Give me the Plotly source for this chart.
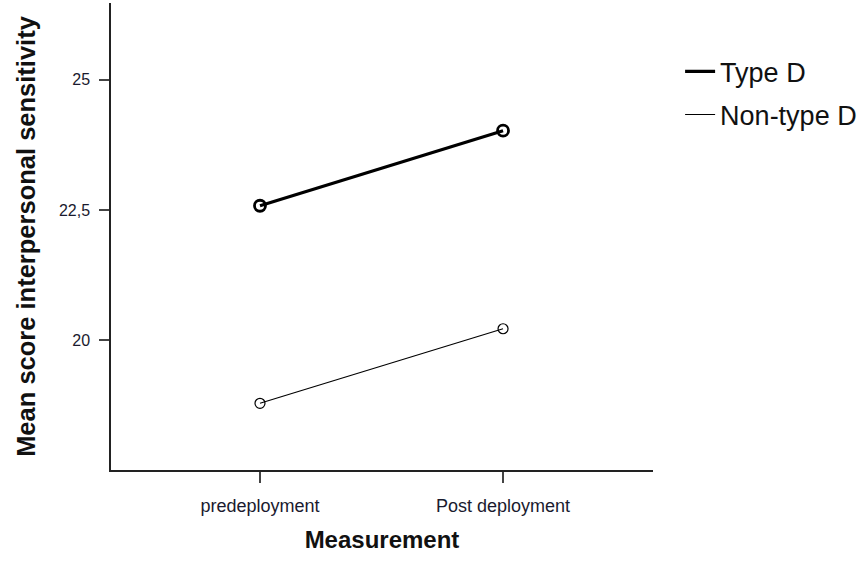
import plotly.graph_objects as go

categories = ["predeployment", "Post deployment"]
type_d = [22.58, 24.02]
non_type_d = [18.79, 20.22]
y_ticks = [20, 22.5, 25]
y_tick_labels = ["20", "22,5", "25"]

FONT = "Liberation Sans, Arial, sans-serif"
x_pos = [0, 1]

fig = go.Figure()

series = [
    ("Type D", type_d, 3.2, 11, 2.8),
    ("Non-type D", non_type_d, 1.2, 10, 1.2),
]
for name, vals, lw, msize, mlw in series:
    fig.add_trace(go.Scatter(
        x=x_pos, y=vals, mode="lines", name=name, legendgroup=name,
        line=dict(color="black", width=lw), showlegend=True,
    ))
    fig.add_trace(go.Scatter(
        x=x_pos, y=vals, mode="markers", name=name, legendgroup=name,
        marker=dict(symbol="circle-open", size=msize, color="black",
                    line=dict(color="black", width=mlw)),
        showlegend=False,
    ))

fig.update_layout(
    width=868, height=561,
    margin=dict(l=111, r=215, t=3, b=91),
    plot_bgcolor="white", paper_bgcolor="white",
    font=dict(family=FONT, color="#222"),
    legend=dict(x=1.05, y=0.905, xanchor="left", yanchor="top",
                font=dict(size=27, color="#111"), tracegroupgap=5,
                bgcolor="rgba(0,0,0,0)"),
    xaxis=dict(
        tickmode="array", tickvals=x_pos, ticktext=categories,
        range=[-0.613, 1.617],
        showline=True, linecolor="#222", linewidth=1.5,
        ticks="outside", ticklen=11, tickcolor="#444", tickwidth=1.5,
        showgrid=False, zeroline=False,
        tickfont=dict(size=18, color="#1a1a2e"),
        ticklabelstandoff=8,
        title=dict(text="<b>Measurement</b>", font=dict(size=24, color="#111"), standoff=16),
    ),
    yaxis=dict(
        tickmode="array", tickvals=y_ticks, ticktext=y_tick_labels,
        range=[17.51, 26.47],
        showline=True, linecolor="#222", linewidth=1.5,
        ticks="outside", ticklen=10, tickcolor="#444", tickwidth=1.5,
        showgrid=False, zeroline=False,
        tickfont=dict(size=16, color="#1a1a2e"),
        ticklabelstandoff=6,
        title=dict(text="<b>Mean score interpersonal sensitivity</b>",
                   font=dict(size=25.5, color="#111"), standoff=16),
    ),
)

fig.write_html("out.html",
               config={"displayModeBar": False},
               post_script="document.body.style.margin='0';document.body.style.padding='0';")
